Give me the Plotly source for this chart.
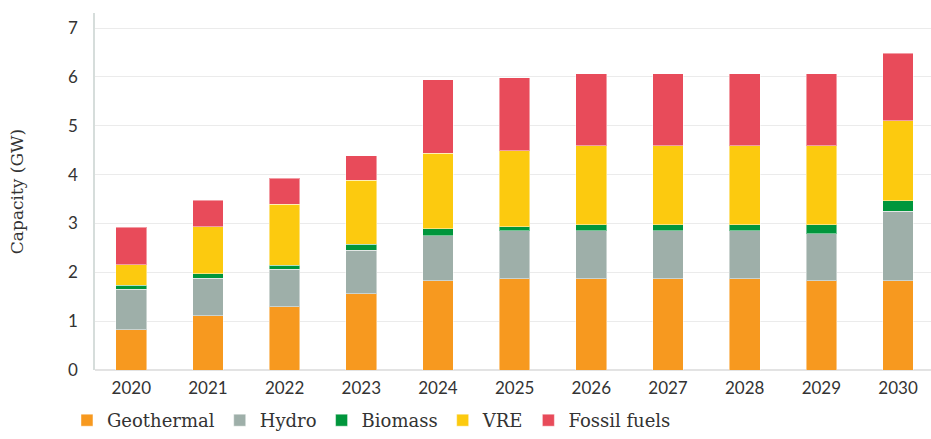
import plotly.graph_objects as go

years = ["2020", "2021", "2022", "2023", "2024", "2025", "2026", "2027", "2028", "2029", "2030"]

geothermal = [0.82, 1.11, 1.30, 1.56, 1.83, 1.87, 1.87, 1.87, 1.87, 1.83, 1.83]
hydro = [0.83, 0.77, 0.76, 0.89, 0.92, 0.98, 0.98, 0.98, 0.98, 0.96, 1.42]
biomass = [0.09, 0.09, 0.09, 0.13, 0.14, 0.08, 0.12, 0.12, 0.12, 0.18, 0.22]
vre = [0.42, 0.96, 1.24, 1.31, 1.55, 1.56, 1.62, 1.62, 1.62, 1.62, 1.63]
fossil = [0.76, 0.55, 0.54, 0.50, 1.50, 1.49, 1.48, 1.48, 1.48, 1.48, 1.39]

series = [
    ("Geothermal", geothermal, "#F7991F"),
    ("Hydro", hydro, "#9EAFA9"),
    ("Biomass", biomass, "#00963C"),
    ("VRE", vre, "#FCCA0F"),
    ("Fossil fuels", fossil, "#E84B5A"),
]

fig = go.Figure()
for name, vals, col in series:
    fig.add_trace(go.Bar(
        x=years, y=vals, name=name,
        marker=dict(color=col, line=dict(color="rgba(255,255,255,0.45)", width=1)),
    ))

fig.update_layout(
    barmode="stack",
    bargap=0.60,
    width=931, height=439,
    margin=dict(l=95, r=0, t=13, b=69),
    plot_bgcolor="white",
    paper_bgcolor="white",
    font=dict(family="Lato", size=17, color="#333333"),
    # legend placed against the whole figure so it doesn't eat into the plot area
    legend=dict(
        orientation="h",
        xref="container", yref="container",
        x=0.399, xanchor="center",
        y=-0.012, yanchor="bottom",
        font=dict(family="DejaVu Serif", size=18, color="#333333"),
        traceorder="normal",
        itemclick=False,
    ),
)

fig.update_xaxes(
    range=[-0.473, 10.43],
    automargin=False,
    showgrid=False,
    showline=False,
    ticks="",
    ticklabelstandoff=6,
    tickfont=dict(family="Lato", size=17, color="#333333"),
)

fig.update_yaxes(
    range=[0, 7.31],
    dtick=1,
    automargin=False,
    showgrid=True,
    gridcolor="#EBEBEB",
    gridwidth=1,
    zeroline=True,
    zerolinecolor="#E3E3E3",
    zerolinewidth=2,
    showline=True,
    linecolor="#D6DDDB",
    linewidth=1.5,
    ticks="",
    ticklabelstandoff=12,
    tickfont=dict(family="Lato", size=17, color="#333333"),
    title=dict(text="Capacity (GW)", font=dict(family="DejaVu Serif", size=17, color="#333333"), standoff=40),
)

# drop the default page margin so the figure sits flush in the window
fig.write_html("out.html", config={"displayModeBar": False},
               post_script="document.body.style.margin='0px';")
